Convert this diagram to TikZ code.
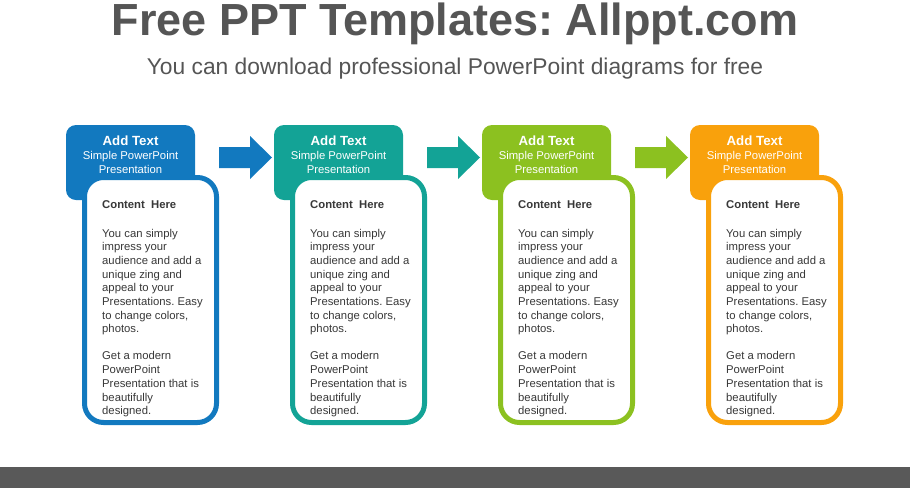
\documentclass[tikz,border=0pt]{standalone}
\usepackage{fontspec}
\setmainfont{Liberation Sans}
\usepackage{tikz}
\usetikzlibrary{positioning, calc}
\definecolor{BoxBlue}{HTML}{1279BF}
\definecolor{BoxTeal}{HTML}{13A396}
\definecolor{BoxGreen}{HTML}{8CC120}
\definecolor{BoxOrange}{HTML}{F9A10C}
\definecolor{TitleGray}{HTML}{555555}
\definecolor{BodyGray}{HTML}{383838}
\definecolor{BarGray}{HTML}{595959}
\frenchspacing
\tikzset{
  % Box styles
  headbox/.style={rectangle, rounded corners=10pt, minimum width=129pt, minimum height=75pt, inner sep=0pt, outer sep=0pt, anchor=north west},
  contentbox/.style={rectangle, rounded corners=19pt, line width=5pt, fill=white, minimum width=132pt, minimum height=245pt, inner sep=0pt, anchor=north west},
  % Text styles
  headtext/.style={anchor=north, inner sep=0pt, align=center, text=white, font=\fontsize{11.3}{14}\selectfont},
  bodytext/.style={anchor=north west, inner sep=0pt, align=left, text=BodyGray, font=\fontsize{11.3}{13.7}\selectfont}
}

\begin{document}
\begin{tikzpicture}[x=1pt, y=-1pt]
  \useasboundingbox (0,0) rectangle (910,488);

  % Title
  \node[anchor=base, inner sep=0pt, text=TitleGray, font=\fontsize{45}{50}\selectfont\bfseries] (title) at (455,35) {Free PPT Templates: Allppt.com};
  \node[anchor=base, inner sep=0pt, text=TitleGray, font=\fontsize{22.8}{26}\selectfont] (subtitle) at (455,74) {You can download professional PowerPoint diagrams for free};

  % Header tabs
  \node[headbox, fill=BoxBlue] (hd1) at (66,125) {};
  \node[headbox, fill=BoxTeal, right=79pt of hd1] (hd2) {};
  \node[headbox, fill=BoxGreen, right=79pt of hd2] (hd3) {};
  \node[headbox, fill=BoxOrange, right=79pt of hd3] (hd4) {};

  \node[headtext] (ht1) at ([yshift=-11pt]hd1.north) {\textbf{\fontsize{13.3}{14}\selectfont Add Text}\\Simple PowerPoint\\Presentation};
  \node[headtext] (ht2) at ([yshift=-11pt]hd2.north) {\textbf{\fontsize{13.3}{14}\selectfont Add Text}\\Simple PowerPoint\\Presentation};
  \node[headtext] (ht3) at ([yshift=-11pt]hd3.north) {\textbf{\fontsize{13.3}{14}\selectfont Add Text}\\Simple PowerPoint\\Presentation};
  \node[headtext] (ht4) at ([yshift=-11pt]hd4.north) {\textbf{\fontsize{13.3}{14}\selectfont Add Text}\\Simple PowerPoint\\Presentation};

  % Content boxes
  \node[contentbox, draw=BoxBlue] (ct1) at ([shift={(16,50)}]hd1.north west) {};
  \node[contentbox, draw=BoxTeal] (ct2) at ([shift={(16,50)}]hd2.north west) {};
  \node[contentbox, draw=BoxGreen] (ct3) at ([shift={(16,50)}]hd3.north west) {};
  \node[contentbox, draw=BoxOrange] (ct4) at ([shift={(16,50)}]hd4.north west) {};

  \node[bodytext] (tx1) at ([shift={(20,25)}]ct1.north west) {\textbf{Content\ \ Here}\\[15.3pt]You can simply\\impress your\\audience and add a\\unique zing and\\appeal to your\\Presentations. Easy\\to change colors,\\photos.\\[13.3pt]Get a modern\\PowerPoint\\Presentation that is\\beautifully\\designed.};
  \node[bodytext] (tx2) at ([shift={(20,25)}]ct2.north west) {\textbf{Content\ \ Here}\\[15.3pt]You can simply\\impress your\\audience and add a\\unique zing and\\appeal to your\\Presentations. Easy\\to change colors,\\photos.\\[13.3pt]Get a modern\\PowerPoint\\Presentation that is\\beautifully\\designed.};
  \node[bodytext] (tx3) at ([shift={(20,25)}]ct3.north west) {\textbf{Content\ \ Here}\\[15.3pt]You can simply\\impress your\\audience and add a\\unique zing and\\appeal to your\\Presentations. Easy\\to change colors,\\photos.\\[13.3pt]Get a modern\\PowerPoint\\Presentation that is\\beautifully\\designed.};
  \node[bodytext] (tx4) at ([shift={(20,25)}]ct4.north west) {\textbf{Content\ \ Here}\\[15.3pt]You can simply\\impress your\\audience and add a\\unique zing and\\appeal to your\\Presentations. Easy\\to change colors,\\photos.\\[13.3pt]Get a modern\\PowerPoint\\Presentation that is\\beautifully\\designed.};

  % Arrows between steps
  \fill[BoxBlue] ($(ct1.north east)+(0,-28)$) -- ++(31,0) -- ++(0,-11) -- ++(22,21.5) -- ++(-22,21.5) -- ++(0,-11) -- ++(-31,0) -- cycle;
  \fill[BoxTeal] ($(ct2.north east)+(0,-28)$) -- ++(31,0) -- ++(0,-11) -- ++(22,21.5) -- ++(-22,21.5) -- ++(0,-11) -- ++(-31,0) -- cycle;
  \fill[BoxGreen] ($(ct3.north east)+(0,-28)$) -- ++(31,0) -- ++(0,-11) -- ++(22,21.5) -- ++(-22,21.5) -- ++(0,-11) -- ++(-31,0) -- cycle;

  % Footer bar
  \fill[BarGray] (0,467) rectangle (910,488);
\end{tikzpicture}
\end{document}
